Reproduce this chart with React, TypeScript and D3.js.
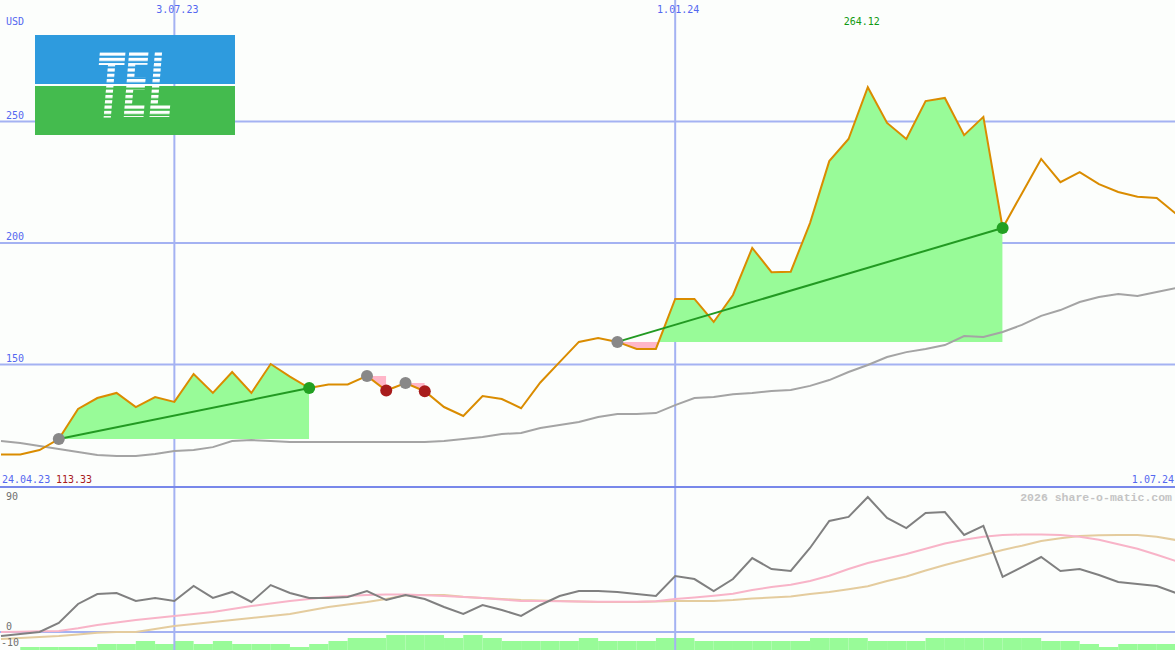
import React from 'react';
import * as d3 from 'd3';

const W = 1175;
const H = 650;

// weekly dates (Mondays)
const dates = [
  '2023-05-01','2023-05-08','2023-05-15','2023-05-22','2023-05-29','2023-06-05','2023-06-12','2023-06-19','2023-06-26',
  '2023-07-03','2023-07-10','2023-07-17','2023-07-24','2023-07-31','2023-08-07','2023-08-14','2023-08-21','2023-08-28',
  '2023-09-04','2023-09-11','2023-09-18','2023-09-25','2023-10-02','2023-10-09','2023-10-16','2023-10-23','2023-10-30',
  '2023-11-06','2023-11-13','2023-11-20','2023-11-27','2023-12-04','2023-12-11','2023-12-18','2023-12-25',
  '2024-01-01','2024-01-08','2024-01-15','2024-01-22','2024-01-29','2024-02-05','2024-02-12','2024-02-19','2024-02-26',
  '2024-03-04','2024-03-11','2024-03-18','2024-03-25','2024-04-01','2024-04-08','2024-04-15','2024-04-22','2024-04-29',
  '2024-05-06','2024-05-13','2024-05-20','2024-05-27','2024-06-03','2024-06-10','2024-06-17','2024-06-24','2024-07-01',
];

// weekly close, USD
const price = [
  113.0, 113.0, 114.8, 119.3, 131.7, 136.2, 138.3, 132.5, 136.6, 134.6,
  146.1, 138.3, 146.9, 138.3, 150.2, 145.0, 140.3, 141.8, 141.8, 145.3,
  139.3, 142.4, 139.0, 132.5, 128.8, 137.0, 135.8, 132.0, 142.6, 151.0,
  159.3, 160.9, 159.3, 156.4, 156.4, 177.0, 177.0, 167.5, 178.6, 198.0,
  188.0, 188.2, 208.2, 233.7, 242.8, 264.12, 249.4, 242.8, 258.4, 259.7,
  244.4, 251.9, 206.2, 220.4, 234.6, 225.0, 229.2, 224.2, 221.0, 219.0,
  218.5, 212.0,
];

// slow moving average (grey line)
const movingAvg = [
  118.5, 117.7, 116.5, 115.2, 114.0, 112.8, 112.3, 112.3, 113.2, 114.4,
  114.8, 116.0, 118.5, 118.9, 118.5, 118.1, 118.1, 118.1, 118.1, 118.1,
  118.1, 118.1, 118.1, 118.5, 119.3, 120.2, 121.4, 121.8, 123.9, 125.1,
  126.3, 128.4, 129.6, 129.6, 130.0, 133.3, 136.2, 136.6, 137.8, 138.3,
  139.1, 139.5, 141.2, 143.6, 146.9, 149.8, 153.1, 155.1, 156.4, 158.0,
  161.7, 161.3, 163.4, 166.3, 170.0, 172.4, 175.7, 177.8, 179.0, 178.2,
  179.8, 181.5,
];

// lower panel indicator lines
const oscillator = [
  -2.7, -1.3, 0, 6, 18.7, 25.3, 26, 20.7, 22.7, 20.7,
  30.7, 22.7, 26.7, 20, 31.3, 26, 22.7, 22.7, 23.3, 27.3,
  21.3, 24.7, 22, 16.7, 12, 18, 14.7, 10.7, 18, 24,
  27.3, 27.3, 26.7, 25.3, 24, 37.3, 35.3, 27.3, 35.3, 49.3,
  42, 40.7, 56, 74, 76.7, 90, 76, 69.3, 79.3, 80,
  64.7, 70.7, 36.7, 43.3, 50, 40.7, 42, 38, 33.3, 32,
  30.7, 26,
];
const signalFast = [
  0, 0.2, 0.5, 0.7, 2.5, 4.7, 6.3, 8, 9.3, 10.7,
  12, 13.3, 15.3, 17.3, 19, 20.7, 22, 23.3, 24, 24.7,
  25, 25, 24.5, 24, 23.3, 22.7, 21.7, 20.7, 20.7, 20.5,
  20.3, 20.2, 20.2, 20.2, 20.5, 22, 23, 24.2, 25.5, 28,
  30, 31.5, 34, 37.5, 42, 46, 49, 52, 55.5, 59,
  61.5, 63.5, 64.7, 65, 65, 64.7, 63.5, 61.5, 58.5, 55.5,
  51.5, 47.3,
];
const signalSlow = [
  -4.7, -4, -3.3, -2.7, -1.7, -0.5, 0, 0, 2, 4,
  5.3, 6.7, 8, 9.3, 10.7, 12, 14.3, 16.7, 18.3, 20,
  22, 24.5, 24.7, 24.7, 23.5, 22.7, 22, 21.3, 21, 20.7,
  20.3, 20, 20, 20, 20.3, 20.7, 20.7, 20.7, 21.3, 22.3,
  23, 23.7, 25.3, 26.7, 28.5, 30.5, 34, 37, 41, 44.7,
  48, 51.3, 54.7, 57.5, 60.7, 62.5, 64, 64.5, 64.7, 64.7,
  63.5, 61.3,
];

// volume bars (level per week, bar spans week i -> i+1)
const volumeLevels = [
  0, 1, 1, 1, 1, 2, 2, 3, 2, 3,
  2, 3, 2, 2, 2, 1, 2, 3, 4, 4,
  5, 5, 5, 4, 5, 4, 3, 3, 3, 3,
  4, 3, 3, 3, 4, 4, 3, 3, 3, 3,
  3, 3, 4, 4, 4, 3, 3, 3, 4, 4,
  4, 4, 4, 4, 3, 3, 2, 1, 2, 2,
  2,
];

// trades: buy / sell week indices
const tradeBuy = [3, 19, 21, 32];
const tradeSell = [16, 20, 22, 52];

const priceTicks = [150, 200, 250];
const dateTicks = ['2023-07-03', '2024-01-01'];
const dateTickLabels = ['3.07.23', '1.01.24'];
const lowerTicks = [90, 0, -10];
const startLabel = '24.04.23';
const endLabel = '1.07.24';
const minLabel = '113.33';

const parse = d3.utcParse('%Y-%m-%d');
const dts = dates.map((d) => parse(d) as Date);

const BLUE_TEXT = '#5468f0';
const GRID = '#a4b2f2';
const SEP = '#7888ea';
const MONO = "'DejaVu Sans Mono', monospace";

export default function App() {
  const x = d3.scaleUtc().domain([parse('2023-05-01') as Date, parse('2024-07-01') as Date]).range([1, 1176]);
  const y = d3.scaleLinear().domain([100, 300]).range([486, 0]);
  const yl = d3.scaleLinear().domain([-10, 90]).range([647, 497]);
  const yb = d3.scaleLinear().domain([0, 5]).range([650, 635]);

  const idx = d3.range(dates.length);
  const lineOf = (arr: number[], ys: (v: number) => number) =>
    d3.line<number>().x((i) => x(dts[i])).y((i) => ys(arr[i]))(idx) as string;

  const maxI = d3.maxIndex(price);
  const lowerLabelY = (t: number) => (t === 90 ? yl(t) + 3 : t < 0 ? yl(t) - 1 : yl(t) - 2);

  return (
    <svg width={W} height={H} style={{ position: 'absolute', left: 0, top: 0, background: '#fcfefc' }}>
      <defs>
        <pattern id="stripePat" patternUnits="userSpaceOnUse" x={0} y={52.5} width={20} height={5.3}>
          <rect x={0} y={0} width={20} height={3.2} fill="white" />
        </pattern>
        <mask id="stripeMask">
          <rect x={35} y={35} width={200} height={100} fill="url(#stripePat)" />
        </mask>
        {tradeBuy.map((b, k) => {
          const x0 = x(dts[b]);
          const x1 = x(dts[tradeSell[k]]);
          const by = y(price[b]);
          return (
            <React.Fragment key={k}>
              <clipPath id={`up${k}`}>
                <rect x={x0} y={0} width={x1 - x0} height={by} />
              </clipPath>
              <clipPath id={`dn${k}`}>
                <rect x={x0} y={by} width={x1 - x0} height={486 - by} />
              </clipPath>
            </React.Fragment>
          );
        })}
      </defs>
      <rect x={0} y={0} width={W} height={H} fill="#fcfefc" />

      {/* volume bars */}
      {volumeLevels.map((v, i) =>
        v > 0 && i + 1 < dts.length ? (
          <rect key={i} x={x(dts[i])} y={yb(v)} width={x(dts[i + 1]) - x(dts[i])} height={yb(0) - yb(v)} fill="#98fb98" />
        ) : null
      )}

      {/* grid */}
      {priceTicks.map((t) => (
        <line key={t} x1={0} x2={W} y1={y(t)} y2={y(t)} stroke={GRID} strokeWidth={2} />
      ))}
      {dateTicks.map((t) => (
        <line key={t} x1={x(parse(t) as Date)} x2={x(parse(t) as Date)} y1={0} y2={H} stroke={GRID} strokeWidth={2} />
      ))}
      <line x1={0} x2={W} y1={yl(0)} y2={yl(0)} stroke={GRID} strokeWidth={2} />
      <line x1={0} x2={W} y1={487} y2={487} stroke={SEP} strokeWidth={2} />

      {/* trade fills */}
      {tradeBuy.map((b, k) => {
        const s = tradeSell[k];
        const seg = d3.range(b, s + 1);
        const base = y(price[b]);
        const area = d3.area<number>().x((i) => x(dts[i])).y0(base).y1((i) => y(price[i]))(seg) as string;
        return (
          <g key={k}>
            <path d={area} fill="#98fb98" clipPath={`url(#up${k})`} />
            <path d={area} fill="#ffb6c8" clipPath={`url(#dn${k})`} />
          </g>
        );
      })}

      {/* moving average and price */}
      <path d={lineOf(movingAvg, y)} fill="none" stroke="#a4a4a4" strokeWidth={2} />
      <path d={lineOf(price, y)} fill="none" stroke="#da8c00" strokeWidth={2} />

      {/* trend lines for winning trades */}
      {tradeBuy.map((b, k) => {
        const s = tradeSell[k];
        if (price[s] <= price[b]) return null;
        return (
          <line key={k} x1={x(dts[b])} y1={y(price[b])} x2={x(dts[s])} y2={y(price[s])} stroke="#229a22" strokeWidth={2} />
        );
      })}

      {/* markers */}
      {tradeBuy.map((b, k) => {
        const s = tradeSell[k];
        const win = price[s] > price[b];
        return (
          <g key={k}>
            <circle cx={x(dts[b])} cy={y(price[b])} r={6} fill="#888888" />
            <circle cx={x(dts[s])} cy={y(price[s])} r={6} fill={win ? '#22a022' : '#a81c1c'} />
          </g>
        );
      })}

      {/* lower panel lines */}
      <path d={lineOf(signalSlow, yl)} fill="none" stroke="#e4cc9e" strokeWidth={2} />
      <path d={lineOf(signalFast, yl)} fill="none" stroke="#f8b4c8" strokeWidth={2} />
      <path d={lineOf(oscillator, yl)} fill="none" stroke="#808080" strokeWidth={2} />

      {/* logo */}
      <rect x={35} y={35} width={200} height={49} fill="#2e9bde" />
      <rect x={35} y={86} width={200} height={49} fill="#44bb4e" />
      <text
        x={135}
        y={117}
        textAnchor="middle"
        fontFamily="'DejaVu Sans', sans-serif"
        fontWeight="bold"
        fontStyle="italic"
        fontSize={89}
        textLength={76}
        lengthAdjust="spacingAndGlyphs"
        fill="white"
        mask="url(#stripeMask)"
      >
        TEL
      </text>

      {/* labels */}
      <g fontFamily={MONO} fontSize={10}>
        <text x={6} y={25} fill={BLUE_TEXT}>USD</text>
        {priceTicks.map((t) => (
          <text key={t} x={6} y={y(t) - 3} fill={BLUE_TEXT}>{t}</text>
        ))}
        {dateTicks.map((t, i) => (
          <text key={t} x={x(parse(t) as Date) + 3} y={13} fill={BLUE_TEXT} textAnchor="middle">{dateTickLabels[i]}</text>
        ))}
        <text x={x(dts[maxI]) - 6} y={25} fill="#119a11" textAnchor="middle">{price[maxI].toFixed(2)}</text>
        <text x={2} y={483} fill={BLUE_TEXT}>{startLabel}</text>
        <text x={56} y={483} fill="#a81c1c">{minLabel}</text>
        <text x={1174} y={483} fill={BLUE_TEXT} textAnchor="end">{endLabel}</text>
        {lowerTicks.map((t) => (
          <text key={t} x={t < 0 ? 1 : 6} y={lowerLabelY(t)} fill="#707070">{t}</text>
        ))}
      </g>
      <text x={1172} y={501} textAnchor="end" fontFamily="'Liberation Mono', monospace" fontWeight="bold" fontSize={11.5} fill="#c4c4c4">
        2026 share-o-matic.com
      </text>
    </svg>
  );
}
